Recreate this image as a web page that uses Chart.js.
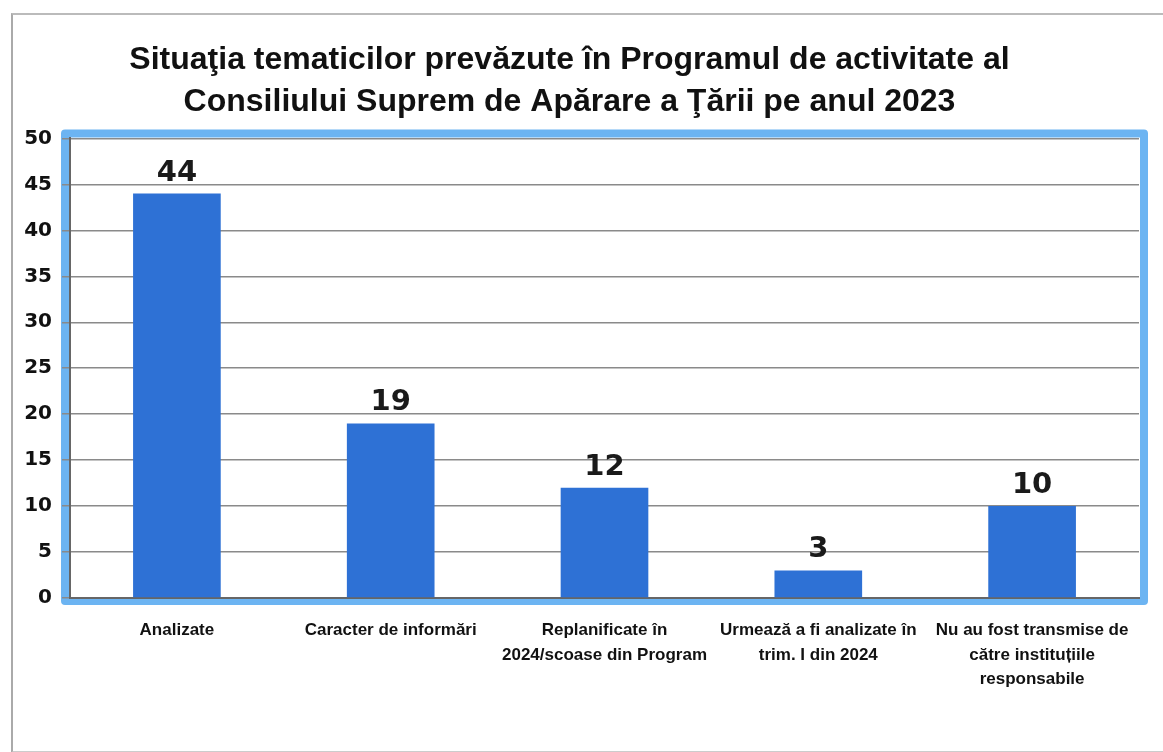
<!DOCTYPE html>
<html>
<head>
<meta charset="utf-8">
<script src="https://cdn.jsdelivr.net/npm/chart.js@4/dist/chart.umd.min.js"></script>
<style>
  body { margin: 0; background: #fff; }
  #wrap { position: relative; width: 1163px; height: 752px; }
  #scan { position: absolute; left: 11px; top: 13px; width: 1160px; height: 736px;
          border-left: 2px solid #aaa; border-top: 2px solid #bbb; border-bottom: 2px solid #ccc; }
  canvas { position: absolute; left: 0; top: 0; }
</style>
</head>
<body>
<div id="wrap">
  <div id="scan"></div>
  <canvas id="chart" width="1163" height="752"></canvas>
</div>
<script>
// date
const categorii = [
  ['Analizate'],
  ['Caracter de informări'],
  ['Replanificate în', '2024/scoase din Program'],
  ['Urmează a fi analizate în', 'trim. I din 2024'],
  ['Nu au fost transmise de', 'către instituțiile', 'responsabile']
];
const valori = [44, 19, 12, 3, 10];
const tickuriY = [0, 5, 10, 15, 20, 25, 30, 35, 40, 45, 50];

const titlu = [
  'Situaţia tematicilor prevăzute în Programul de activitate al',
  'Consiliului Suprem de Apărare a Ţării pe anul 2023'
];

const ALBASTRU = '#2e71d5';
const RAMA = '#6cb4f2';

// rama albastra deschisa din jurul zonei graficului
const ramaPlugin = {
  id: 'rama',
  beforeDraw(chart) {
    const { ctx, chartArea: a } = chart;
    ctx.save();
    ctx.strokeStyle = RAMA;
    ctx.lineWidth = 8;
    ctx.lineJoin = 'round';
    ctx.strokeRect(a.left - 5, a.top - 5, a.right - a.left + 10, a.bottom - a.top + 8);
    ctx.restore();
  }
};

// etichetele de valoare deasupra barelor
const eticheteValori = {
  id: 'eticheteValori',
  afterDatasetsDraw(chart) {
    const { ctx } = chart;
    const meta = chart.getDatasetMeta(0);
    ctx.save();
    ctx.font = 'bold 29px "DejaVu Sans"';
    ctx.fillStyle = '#1a1a1a';
    ctx.textAlign = 'center';
    ctx.textBaseline = 'bottom';
    meta.data.forEach((bar, i) => {
      ctx.fillText(String(valori[i]), bar.x, bar.y - 6);
    });
    ctx.restore();
  }
};

new Chart(document.getElementById('chart'), {
  type: 'bar',
  data: {
    labels: categorii,
    datasets: [{
      data: valori,
      backgroundColor: ALBASTRU,
      borderWidth: 0,
      barPercentage: 0.82,
      categoryPercentage: 0.5
    }]
  },
  options: {
    responsive: false,
    animation: false,
    layout: { padding: { left: 0, right: 24, top: 0, bottom: 0 } },
    plugins: {
      legend: { display: false },
      tooltip: { enabled: false },
      title: {
        display: true,
        text: titlu,
        color: '#111',
        font: { family: '"Liberation Sans", Arial', size: 32, weight: 'bold', lineHeight: 1.32 },
        padding: { top: 39, bottom: 15 }
      }
    },
    scales: {
      y: {
        min: 0,
        max: 50,
        afterBuildTicks(scale) { scale.ticks = tickuriY.map(v => ({ value: v })); },
        afterFit(scale) { scale.width = 70; },
        ticks: {
          color: '#111',
          font: { family: '"DejaVu Sans"', size: 20, weight: 'bold' },
          padding: 10
        },
        grid: { color: '#8a8a8a', lineWidth: 1.5, tickLength: 8, drawTicks: true },
        border: { color: '#666', width: 2 }
      },
      x: {
        afterFit(scale) { scale.height = 154; },
        ticks: {
          color: '#111',
          font: { family: '"Liberation Sans", Arial', size: 17, weight: 'bold', lineHeight: 1.45 },
          maxRotation: 0,
          autoSkip: false,
          padding: 12
        },
        grid: { display: false },
        border: { color: '#666', width: 2 }
      }
    }
  },
  plugins: [ramaPlugin, eticheteValori]
});
</script>
</body>
</html>
